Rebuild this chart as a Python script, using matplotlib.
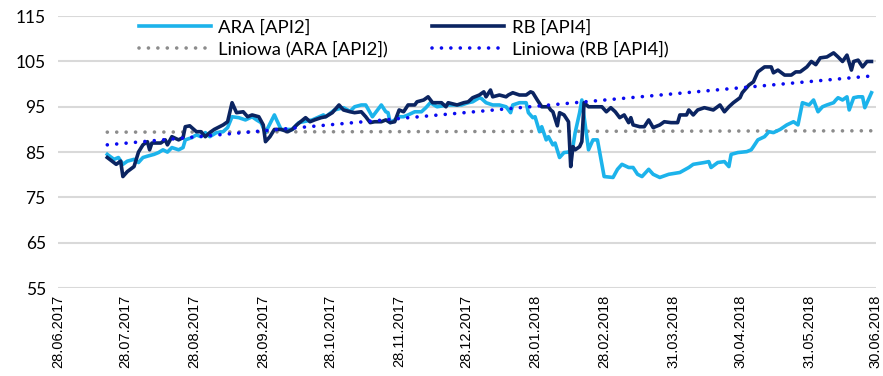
import numpy as np
import pandas as pd
import matplotlib
matplotlib.use("Agg")
import matplotlib.pyplot as plt

# ARA [API2] index
ara_dates = [
    "2017-07-20", "2017-07-23", "2017-07-25", "2017-07-27", "2017-07-29", "2017-08-01",
    "2017-08-03", "2017-08-05", "2017-08-07", "2017-08-10", "2017-08-12", "2017-08-14",
    "2017-08-16", "2017-08-18", "2017-08-21", "2017-08-23", "2017-08-24", "2017-08-27",
    "2017-08-29", "2017-08-31", "2017-09-02", "2017-09-04", "2017-09-07", "2017-09-10",
    "2017-09-12", "2017-09-14", "2017-09-17", "2017-09-20", "2017-09-23", "2017-09-25",
    "2017-09-27", "2017-09-29", "2017-10-03", "2017-10-04", "2017-10-06", "2017-10-11",
    "2017-10-14", "2017-10-20", "2017-10-25", "2017-10-26", "2017-10-30", "2017-11-03",
    "2017-11-06", "2017-11-08", "2017-11-11", "2017-11-13", "2017-11-16", "2017-11-20",
    "2017-11-22", "2017-11-23", "2017-11-24", "2017-11-26", "2017-11-28", "2017-11-30",
    "2017-12-02", "2017-12-05", "2017-12-08", "2017-12-10", "2017-12-12", "2017-12-15",
    "2017-12-20", "2017-12-26", "2017-12-29", "2017-12-31", "2018-01-03", "2018-01-04",
    "2018-01-06", "2018-01-09", "2018-01-12", "2018-01-15", "2018-01-17", "2018-01-18",
    "2018-01-21", "2018-01-24", "2018-01-25", "2018-01-27", "2018-01-28", "2018-01-30",
    "2018-01-31", "2018-02-02", "2018-02-03", "2018-02-05", "2018-02-06", "2018-02-08",
    "2018-02-10", "2018-02-12", "2018-02-14", "2018-02-15", "2018-02-17", "2018-02-18",
    "2018-02-21", "2018-02-23", "2018-02-25", "2018-02-27", "2018-02-28", "2018-03-04",
    "2018-03-06", "2018-03-08", "2018-03-11", "2018-03-13", "2018-03-15", "2018-03-17",
    "2018-03-20", "2018-03-22", "2018-03-25", "2018-03-29", "2018-04-03", "2018-04-07",
    "2018-04-09", "2018-04-14", "2018-04-16", "2018-04-17", "2018-04-20", "2018-04-23",
    "2018-04-25", "2018-04-26", "2018-04-29", "2018-05-03", "2018-05-05", "2018-05-06",
    "2018-05-08", "2018-05-11", "2018-05-13", "2018-05-15", "2018-05-18", "2018-05-21",
    "2018-05-24", "2018-05-26", "2018-05-28", "2018-05-31", "2018-06-02", "2018-06-04",
    "2018-06-06", "2018-06-08", "2018-06-11", "2018-06-12", "2018-06-13", "2018-06-15",
    "2018-06-17", "2018-06-18", "2018-06-20", "2018-06-22", "2018-06-24", "2018-06-25",
    "2018-06-26", "2018-06-28",
]
ara_values = [
    84.5, 83.4, 83.8, 82.3, 83.0, 83.4,
    82.7, 83.8, 84.1, 84.5, 84.9, 85.5,
    85.0, 86.0, 85.5, 86.0, 87.7, 88.2,
    88.8, 88.4, 89.3, 88.4, 89.3, 89.5,
    90.4, 92.8, 92.6, 92.1, 92.8, 92.1,
    91.5, 89.3, 93.2, 92.1, 90.0, 90.0,
    91.5, 92.1, 93.2, 92.8, 94.3, 94.8,
    94.0, 95.0, 95.4, 95.4, 92.8, 95.4,
    93.9, 93.7, 91.5, 92.1, 92.8, 92.8,
    93.2, 93.9, 93.9, 94.8, 95.9, 95.0,
    95.4, 95.4, 95.9, 96.1, 97.0, 96.8,
    95.9, 95.4, 95.4, 95.0, 93.7, 95.4,
    95.9, 95.9, 93.7, 92.6, 92.8, 89.5,
    90.6, 87.7, 88.4, 86.6, 87.0, 83.8,
    84.9, 85.0, 86.2, 89.3, 93.7, 96.5,
    85.5, 87.7, 87.7, 82.3, 79.6, 79.4,
    81.2, 82.3, 81.6, 81.6, 80.1, 79.6,
    81.2, 80.1, 79.4, 80.1, 80.5, 81.6,
    82.3, 82.7, 82.9, 81.6, 82.7, 82.9,
    81.8, 84.5, 84.9, 85.1, 85.5, 86.2,
    87.7, 88.4, 89.5, 89.3, 90.0, 91.0,
    91.7, 91.0, 95.9, 95.4, 96.5, 93.9,
    95.0, 95.4, 95.9, 96.5, 97.0, 96.5,
    97.2, 94.3, 97.0, 97.2, 97.2, 94.8,
    95.9, 98.1,
]

# RB [API4] index
rb_dates = [
    "2017-07-20", "2017-07-24", "2017-07-26", "2017-07-27", "2017-07-29", "2017-08-01",
    "2017-08-02", "2017-08-03", "2017-08-05", "2017-08-07", "2017-08-08", "2017-08-09",
    "2017-08-13", "2017-08-15", "2017-08-16", "2017-08-18", "2017-08-21", "2017-08-23",
    "2017-08-24", "2017-08-26", "2017-08-29", "2017-08-31", "2017-09-02", "2017-09-04",
    "2017-09-06", "2017-09-10", "2017-09-12", "2017-09-14", "2017-09-16", "2017-09-19",
    "2017-09-21", "2017-09-23", "2017-09-26", "2017-09-28", "2017-09-29", "2017-10-01",
    "2017-10-03", "2017-10-06", "2017-10-09", "2017-10-11", "2017-10-13", "2017-10-17",
    "2017-10-19", "2017-10-21", "2017-10-24", "2017-10-26", "2017-10-29", "2017-11-01",
    "2017-11-03", "2017-11-06", "2017-11-08", "2017-11-11", "2017-11-13", "2017-11-15",
    "2017-11-17", "2017-11-20", "2017-11-22", "2017-11-24", "2017-11-26", "2017-11-28",
    "2017-11-30", "2017-12-02", "2017-12-05", "2017-12-06", "2017-12-09", "2017-12-11",
    "2017-12-13", "2017-12-17", "2017-12-19", "2017-12-20", "2017-12-24", "2017-12-27",
    "2017-12-29", "2017-12-31", "2018-01-03", "2018-01-05", "2018-01-06", "2018-01-08",
    "2018-01-09", "2018-01-12", "2018-01-15", "2018-01-16", "2018-01-18", "2018-01-21",
    "2018-01-24", "2018-01-26", "2018-01-27", "2018-01-29", "2018-01-31", "2018-02-03",
    "2018-02-04", "2018-02-05", "2018-02-07", "2018-02-08", "2018-02-10", "2018-02-12",
    "2018-02-13", "2018-02-14", "2018-02-15", "2018-02-17", "2018-02-18", "2018-02-19",
    "2018-02-21", "2018-02-23", "2018-02-27", "2018-03-01", "2018-03-03", "2018-03-05",
    "2018-03-07", "2018-03-09", "2018-03-11", "2018-03-12", "2018-03-13", "2018-03-16",
    "2018-03-18", "2018-03-20", "2018-03-22", "2018-03-25", "2018-03-27", "2018-03-30",
    "2018-04-02", "2018-04-03", "2018-04-06", "2018-04-07", "2018-04-09", "2018-04-11",
    "2018-04-14", "2018-04-18", "2018-04-21", "2018-04-23", "2018-04-25", "2018-04-27",
    "2018-04-30", "2018-05-01", "2018-05-04", "2018-05-06", "2018-05-07", "2018-05-08",
    "2018-05-11", "2018-05-14", "2018-05-15", "2018-05-17", "2018-05-20", "2018-05-23",
    "2018-05-25", "2018-05-27", "2018-05-30", "2018-06-01", "2018-06-03", "2018-06-05",
    "2018-06-08", "2018-06-11", "2018-06-13", "2018-06-15", "2018-06-17", "2018-06-19",
    "2018-06-20", "2018-06-22", "2018-06-24", "2018-06-26", "2018-06-28",
]
rb_values = [
    83.8, 82.3, 83.0, 79.6, 80.7, 81.8,
    83.4, 85.0, 86.6, 87.3, 85.5, 87.0,
    87.0, 87.7, 86.6, 88.4, 87.7, 88.2,
    90.6, 90.8, 89.5, 89.5, 88.4, 89.3,
    90.0, 91.0, 91.7, 95.9, 93.7, 93.9,
    92.8, 93.2, 92.8, 91.0, 87.3, 88.4,
    90.0, 90.0, 89.5, 90.0, 91.0, 92.6,
    91.7, 92.1, 92.6, 92.8, 93.7, 95.4,
    94.3, 93.9, 93.7, 93.9, 92.8, 91.5,
    91.7, 91.7, 92.1, 91.5, 91.7, 94.3,
    93.9, 95.4, 95.4, 96.1, 96.5, 97.2,
    95.9, 95.9, 95.0, 95.9, 95.4, 95.9,
    96.1, 97.0, 97.6, 98.3, 97.2, 98.7,
    97.2, 97.6, 97.2, 97.6, 98.1, 97.6,
    97.6, 98.3, 98.1, 96.5, 95.0, 95.0,
    94.3, 93.9, 90.8, 93.7, 93.2, 91.7,
    81.8, 86.2, 85.5, 86.2, 87.3, 95.9,
    95.0, 95.0, 95.0, 93.9, 94.8, 93.9,
    92.6, 93.2, 91.5, 92.6, 91.0, 90.6,
    90.6, 92.1, 90.4, 91.0, 91.7, 91.5,
    91.5, 93.2, 93.2, 94.3, 93.2, 94.3,
    94.8, 94.3, 95.4, 93.9, 95.0, 95.9,
    97.0, 98.1, 99.8, 100.5, 101.6, 102.7,
    103.8, 103.8, 102.5, 103.1, 102.0, 102.0,
    102.7, 102.7, 103.8, 105.0, 104.3, 105.8,
    106.0, 106.9, 106.0, 105.0, 106.4, 103.1,
    105.0, 105.3, 103.8, 105.0, 105.0,
]

# linear trend lines (Excel "Liniowa"), start/end values
ara_trend_ends = [89.4, 89.7]
rb_trend_ends = [86.6, 101.8]

tick_dates = ["2017-06-28", "2017-07-28", "2017-08-28", "2017-09-28", "2017-10-28",
              "2017-11-28", "2017-12-28", "2018-01-28", "2018-02-28", "2018-03-31",
              "2018-04-30", "2018-05-31", "2018-06-30"]

ara_x = pd.to_datetime(ara_dates)
rb_x = pd.to_datetime(rb_dates)
ticks = pd.to_datetime(tick_dates)

fig = plt.figure(figsize=(8.83, 3.76), dpi=100)
ax = fig.add_axes([0.066, 0.234, 0.926, 0.723])

lw = 2.6
dots = (0, (0.01, 2.6))
ax.plot(ara_x, ara_values, color="#1cb3eb", lw=lw, label="ARA [API2]", zorder=3)
ax.plot([ara_x[0], ara_x[-1]], ara_trend_ends, color="#8c8c8c", lw=lw, linestyle=dots,
        dash_capstyle="round", label="Liniowa (ARA [API2])", zorder=2)
ax.plot(rb_x, rb_values, color="#0b2461", lw=lw, label="RB [API4]", zorder=4)
ax.plot([rb_x[0], rb_x[-1]], rb_trend_ends, color="#0a0af0", lw=lw, linestyle=dots,
        dash_capstyle="round", label="Liniowa (RB [API4])", zorder=5)

ax.set_ylim(55, 115)
ax.set_yticks(range(55, 116, 10))
ax.set_xlim(ticks[0], ticks[-1])
ax.set_xticks(ticks)
ax.set_xticklabels([t.strftime("%d.%m.%Y") for t in ticks], rotation=90,
                   fontsize=10.5, family="Liberation Sans")
for lab in ax.get_yticklabels():
    lab.set_family("Lato")
    lab.set_fontsize(12.5)

ax.grid(axis="y", color="#d9d9d9", lw=1.5)
ax.set_axisbelow(True)
for s in ax.spines.values():
    s.set_visible(False)
ax.tick_params(axis="both", length=0)
ax.tick_params(axis="y", pad=9)
ax.tick_params(axis="x", pad=5)

ax.legend(ncol=2, loc="upper left", bbox_to_anchor=(0.078, 1.05), frameon=False,
          handlelength=3.9, columnspacing=2.4, labelspacing=0.3, handletextpad=0.4,
          prop={"family": "Lato", "size": 13.3})

fig.savefig("out.png", dpi=100)
